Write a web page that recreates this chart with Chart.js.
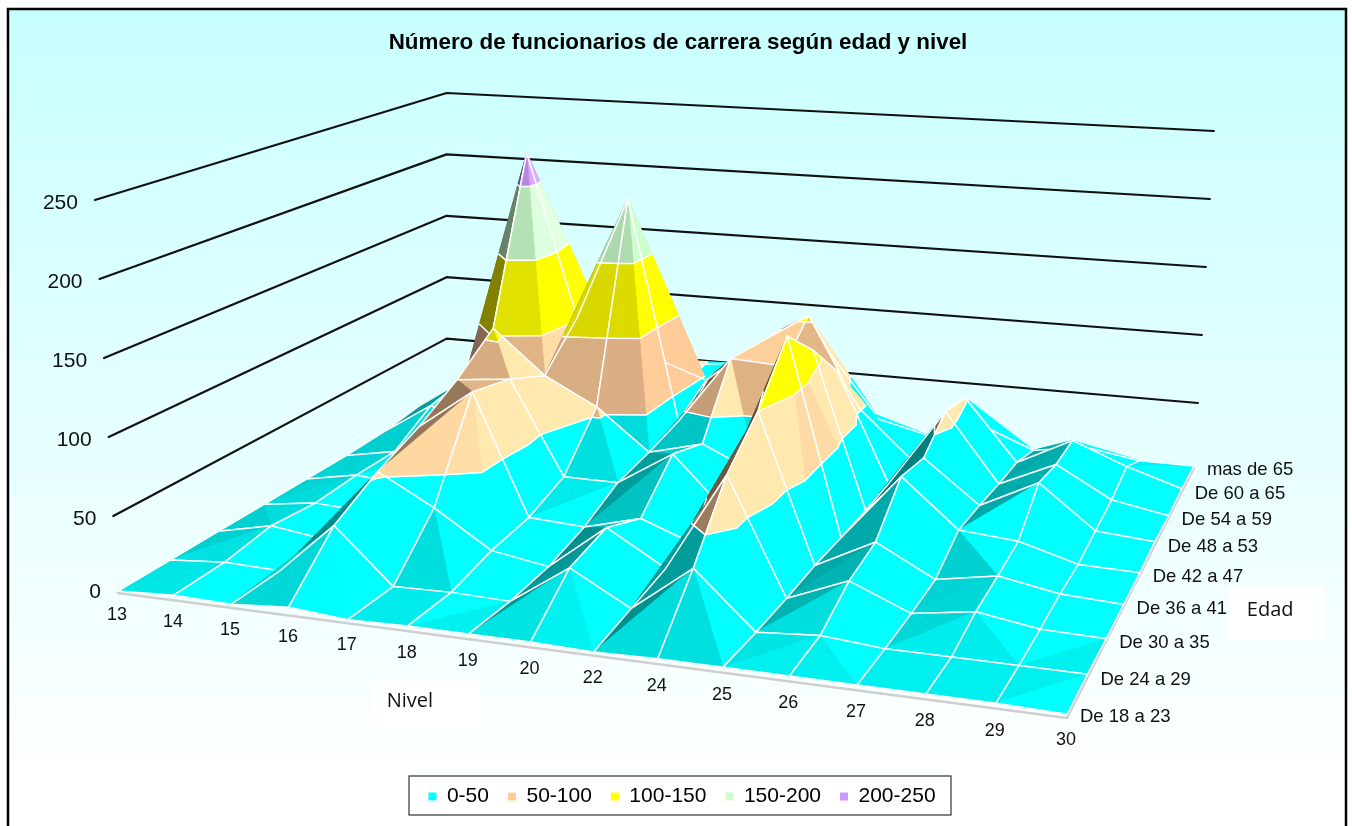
<!DOCTYPE html>
<html>
<head>
<meta charset="utf-8">
<title>Funcionarios de carrera</title>
<script src="https://cdn.jsdelivr.net/npm/chart.js@4"></script>
<style>
    html, body { margin: 0; padding: 0; background: #fff; }
    #wrap { width: 1352px; height: 826px; }
</style>
</head>
<body>
<div id="wrap"><canvas id="surface" width="1352" height="826"></canvas></div>
<script>
const niveles = ["13", "14", "15", "16", "17", "18", "19", "20", "22", "24", "25", "26", "27", "28", "29", "30"];
const edades = ["De 18 a 23", "De 24 a 29", "De 30 a 35", "De 36 a 41", "De 42 a 47", "De 48 a 53", "De 54 a 59", "De 60 a 65", "mas de 65"];
const ticksValor = [0, 50, 100, 150, 200, 250];
const rangos = ["0-50", "50-100", "100-150", "150-200", "200-250"];

// funcionarios por nivel, one list per age group
const de18a23 = [0, 2, 1, 4, 1, 2, 2, 2, 1, 2, 2, 2, 2, 2, 2, 1];
const de24a29 = [0, 3, 2, 36, 1, 2, 1, 27, 6, 36, 1, 4, 1, 1, 1, 1];
const de30a35 = [0, 8, 3, 53, 33, 9, 3, 33, 11, 76, 1, 17, 1, 7, 1, 0];
const de36a41 = [0, 5, 3, 66, 94, 12, 10, 20, 6, 100, 2, 22, 2, 9, 2, 0];
const de42a47 = [0, 7, 3, 83, 87, 22, 22, 46, 9, 135, 1, 47, 15, 12, 1, 0];
const de48a53 = [0, 7, 8, 105, 74, 55, 26, 36, 19, 110, 1, 42, 13, 33, 4, 1];
const de54a59 = [1, 25, 15, 223, 102, 194, 32, 82, 80, 80, 2, 58, 10, 28, 7, 0];
const de60a65 = [5, 30, 20, 60, 79, 60, 47, 78, 103, 37, 3, 52, 8, 28, 13, 1];
const mas65 = [5, 20, 10, 20, 40, 40, 45, 75, 59, 12, 3, 15, 0, 6, 0, 0];
const valores = [de18a23, de24a29, de30a35, de36a41, de42a47, de48a53, de54a59, de60a65, mas65];

const COLORES = [[0, 255, 255], [255, 204, 153], [255, 255, 0], [204, 255, 204], [204, 153, 255]];
const Z_MAX = 250;
const BANDA = 50;

// maps the unit square onto a screen quad (perspective)
function homography(A, B, C, D) {
    const dx1 = B[0] - C[0], dx2 = D[0] - C[0], sx = A[0] - B[0] + C[0] - D[0];
    const dy1 = B[1] - C[1], dy2 = D[1] - C[1], sy = A[1] - B[1] + C[1] - D[1];
    const den = dx1 * dy2 - dx2 * dy1;
    const g = (sx * dy2 - dx2 * sy) / den;
    const h = (dx1 * sy - sx * dy1) / den;
    return (u, v) => {
        const w = 1 + g * u + h * v;
        return [
            (A[0] + (B[0] - A[0] + g * B[0]) * u + (D[0] - A[0] + h * D[0]) * v) / w,
            (A[1] + (B[1] - A[1] + g * B[1]) * u + (D[1] - A[1] + h * D[1]) * v) / w
        ];
    };
}

const suelo = homography([118, 591], [1068, 716], [1195, 466], [452, 393]);
const techo = homography([95, 200], [1103, 286], [1215, 131], [452, 85]);
const nI = niveles.length - 1, nJ = edades.length - 1;

function proyectar(p) {
    const u = p[0] / nI, v = p[1] / nJ, t = p[2] / Z_MAX;
    const a = suelo(u, v), b = techo(u, v);
    return { x: a[0] + (b[0] - a[0]) * t, y: a[1] + (b[1] - a[1]) * t };
}

function vertice(i, j) {
    return [i, j, valores[j][i]];
}

function cortar(a, b, z) {
    const t = (z - a[2]) / (b[2] - a[2]);
    return [a[0] + (b[0] - a[0]) * t, a[1] + (b[1] - a[1]) * t, z];
}

// keeps the part of a polygon on one side of level z
function recortar(poly, z, arriba) {
    const out = [];
    poly.forEach((a, n) => {
        const b = poly[(n + 1) % poly.length];
        const dentroA = arriba ? a[2] >= z : a[2] <= z;
        const dentroB = arriba ? b[2] >= z : b[2] <= z;
        if (dentroA) out.push(a);
        if (dentroA !== dentroB) out.push(cortar(a, b, z));
    });
    return out;
}

// brightness of a facet from its slope, >1 washes towards the pure colour
function brillo(t) {
    const k = 0.03;
    const ax = t[1][0] - t[0][0], ay = t[1][1] - t[0][1], az = (t[1][2] - t[0][2]) * k;
    const bx = t[2][0] - t[0][0], by = t[2][1] - t[0][1], bz = (t[2][2] - t[0][2]) * k;
    let nx = ay * bz - az * by, ny = az * bx - ax * bz, nz = ax * by - ay * bx;
    const len = Math.hypot(nx, ny, nz) * (nz < 0 ? -1 : 1);
    nx /= len; ny /= len; nz /= len;
    const lado = nx < 0 ? 0.52 * nx : nx * 3.5 * nz * nz;
    return Math.min(1.14, 0.94 + lado + 0.05 * ny - 0.09 * (1 - nz));
}

function colorRgb(c, f) {
    const ch = v => Math.max(0, Math.min(255, Math.round(v * f)));
    return "rgb(" + ch(c[0]) + "," + ch(c[1]) + "," + ch(c[2]) + ")";
}

const datasets = [];

function linea(puntos, color, ancho) {
    datasets.push({ data: puntos, showLine: true, fill: false, borderColor: color, borderWidth: ancho });
}

function cara(puntos, color) {
    const cerrado = puntos.concat([puntos[0]]);
    datasets.push({ data: cerrado, showLine: true, fill: "shape", backgroundColor: color, borderColor: color, borderWidth: 0.8 });
}

// back walls: left corner, back corner, right corner at level 0 and at the top
const paredBase = [[118, 595], [447, 400], [1195, 471]];
const paredTope = [[95, 200], [447, 93], [1215, 131]];

function paredEn(nivel) {
    const t = nivel / Z_MAX;
    return paredBase.map((p, n) => ({
        x: p[0] + (paredTope[n][0] - p[0]) * t,
        y: p[1] + (paredTope[n][1] - p[1]) * t
    }));
}

ticksValor.slice(1).forEach(v => linea(paredEn(v), "#111", 2.2));

// grey edge under the front and the right side of the floor
const borde = [[0, 0, 0], [nI, 0, 0], [nI, nJ, 0]].map(proyectar).map(p => ({ x: p.x, y: p.y + 2 }));
linea(borde, "#cfcfcf", 2.5);

function dibujarTriangulo(t) {
    const f = brillo(t);
    COLORES.forEach((c, b) => {
        const lo = b * BANDA, hi = lo + BANDA;
        let poly = recortar(recortar(t, lo, true), hi, false);
        if (poly.length >= 3) cara(poly.map(proyectar), colorRgb(c, f));
    });
    for (let z = BANDA; z < Z_MAX; z += BANDA) {
        const corte = [];
        t.forEach((a, n) => {
            const b = t[(n + 1) % 3];
            if ((a[2] < z) !== (b[2] < z)) corte.push(cortar(a, b, z));
        });
        if (corte.length === 2) linea(corte.map(proyectar), "#fff", 1.5);
    }
}

// painter's order: back rows first, each row from left to right
for (let j = nJ - 1; j >= 0; j--) {
    for (let i = 0; i < nI; i++) {
        const p00 = vertice(i, j), p10 = vertice(i + 1, j), p11 = vertice(i + 1, j + 1), p01 = vertice(i, j + 1);
        const mayor = Math.max(p00[2], p10[2], p11[2], p01[2]);
        // the fold of the cell always runs through its highest corner
        let tris;
        if (p00[2] === mayor || p11[2] === mayor) {
            tris = [[p00, p11, p01], [p00, p10, p11]];
        } else {
            tris = [[p01, p10, p11], [p00, p10, p01]];
        }
        tris.forEach(dibujarTriangulo);
        linea([p00, p10, p11, p01, p00].map(proyectar), "#fff", 1.5);
    }
}

// Chart.js paints the first dataset last
datasets.reverse();

const fondo = {
    id: "fondo",
    afterLayout(chart) {
        // the legend frame is not centred on the page
        chart.legend.left += 4;
        chart.legend.right += 4;
    },
    beforeDraw(chart) {
        const ctx = chart.ctx;
        ctx.save();
        ctx.fillStyle = "#fff";
        ctx.fillRect(0, 0, 1352, 826);
        const grad = ctx.createLinearGradient(0, 10, 0, 780);
        grad.addColorStop(0, "#c8ffff");
        grad.addColorStop(1, "#ffffff");
        ctx.fillStyle = grad;
        ctx.fillRect(8, 9, 1338, 817);
        ctx.strokeStyle = "#000";
        ctx.lineWidth = 2.5;
        ctx.strokeRect(8, 9, 1338, 830);
        ctx.fillStyle = "rgba(255,255,255,0.85)";
        ctx.fillRect(372, 680, 108, 50);
        ctx.fillRect(1228, 586, 97, 54);
        ctx.fillStyle = "#fff";
        ctx.fillRect(409, 776, 542, 39);
        ctx.strokeStyle = "#333";
        ctx.lineWidth = 1.2;
        ctx.strokeRect(409, 776, 542, 39);
        ctx.restore();
    }
};

const rotulos = {
    id: "rotulos",
    afterDraw(chart) {
        const ctx = chart.ctx, sx = chart.scales.x, sy = chart.scales.y;
        const texto = (t, x, y) => ctx.fillText(t, sx.getPixelForValue(x), sy.getPixelForValue(y));
        ctx.save();
        ctx.fillStyle = "#111";
        ctx.textBaseline = "middle";

        ctx.font = "21px 'Liberation Sans'";
        ctx.textAlign = "right";
        ticksValor.forEach(v => {
            const p = paredEn(v)[0];
            texto(String(v), p.x - 17, p.y + (v === 0 ? -3 : 3));
        });

        ctx.font = "18px 'Liberation Sans'";
        ctx.textAlign = "center";
        niveles.forEach((n, i) => {
            const p = proyectar([i, 0, 0]);
            texto(n, p.x - 1, p.y + 24);
        });

        ctx.font = "18.5px 'Liberation Sans'";
        ctx.textAlign = "left";
        edades.forEach((e, j) => {
            const p = proyectar([nI, j, 0]);
            texto(e, p.x + 13, p.y + (j === 0 ? 1 : 4));
        });

        ctx.font = "20px 'Open Sans'";
        ctx.textAlign = "left";
        texto("Nivel", 387, 701);
        texto("Edad", 1248, 610);
        ctx.restore();
    }
};

const chart = new Chart(document.getElementById("surface"), {
    type: "scatter",
    data: { datasets: datasets },
    plugins: [fondo, rotulos],
    options: {
        responsive: false,
        animation: false,
        events: [],
        layout: { padding: { left: 4, bottom: 9 } },
        elements: {
            point: { radius: 0 },
            line: { borderJoinStyle: "round", borderCapStyle: "round" }
        },
        scales: {
            x: { display: false, min: 0, max: 1352 },
            y: { display: false, min: 0, max: 826, reverse: true }
        },
        plugins: {
            tooltip: { enabled: false },
            title: {
                display: true,
                text: "Número de funcionarios de carrera según edad y nivel",
                color: "#000",
                font: { family: "'Liberation Sans'", size: 22.4, weight: "bold" },
                padding: { top: 29, bottom: 4 }
            },
            legend: {
                display: true,
                position: "bottom",
                labels: {
                    boxWidth: 8,
                    boxHeight: 8,
                    padding: 19,
                    color: "#111",
                    font: { family: "'Liberation Sans'", size: 21 },
                    generateLabels: () => rangos.map((r, n) => ({
                        text: r,
                        fillStyle: colorRgb(COLORES[n], 1),
                        strokeStyle: colorRgb(COLORES[n], 1),
                        lineWidth: 0,
                        hidden: false
                    }))
                }
            }
        }
    }
});

// make one scale unit equal one canvas pixel, whatever room title and legend took
const area = chart.chartArea;
chart.options.scales.x.min = area.left;
chart.options.scales.x.max = area.right;
chart.options.scales.y.min = area.top;
chart.options.scales.y.max = area.bottom;
chart.update("none");
</script>
</body>
</html>
